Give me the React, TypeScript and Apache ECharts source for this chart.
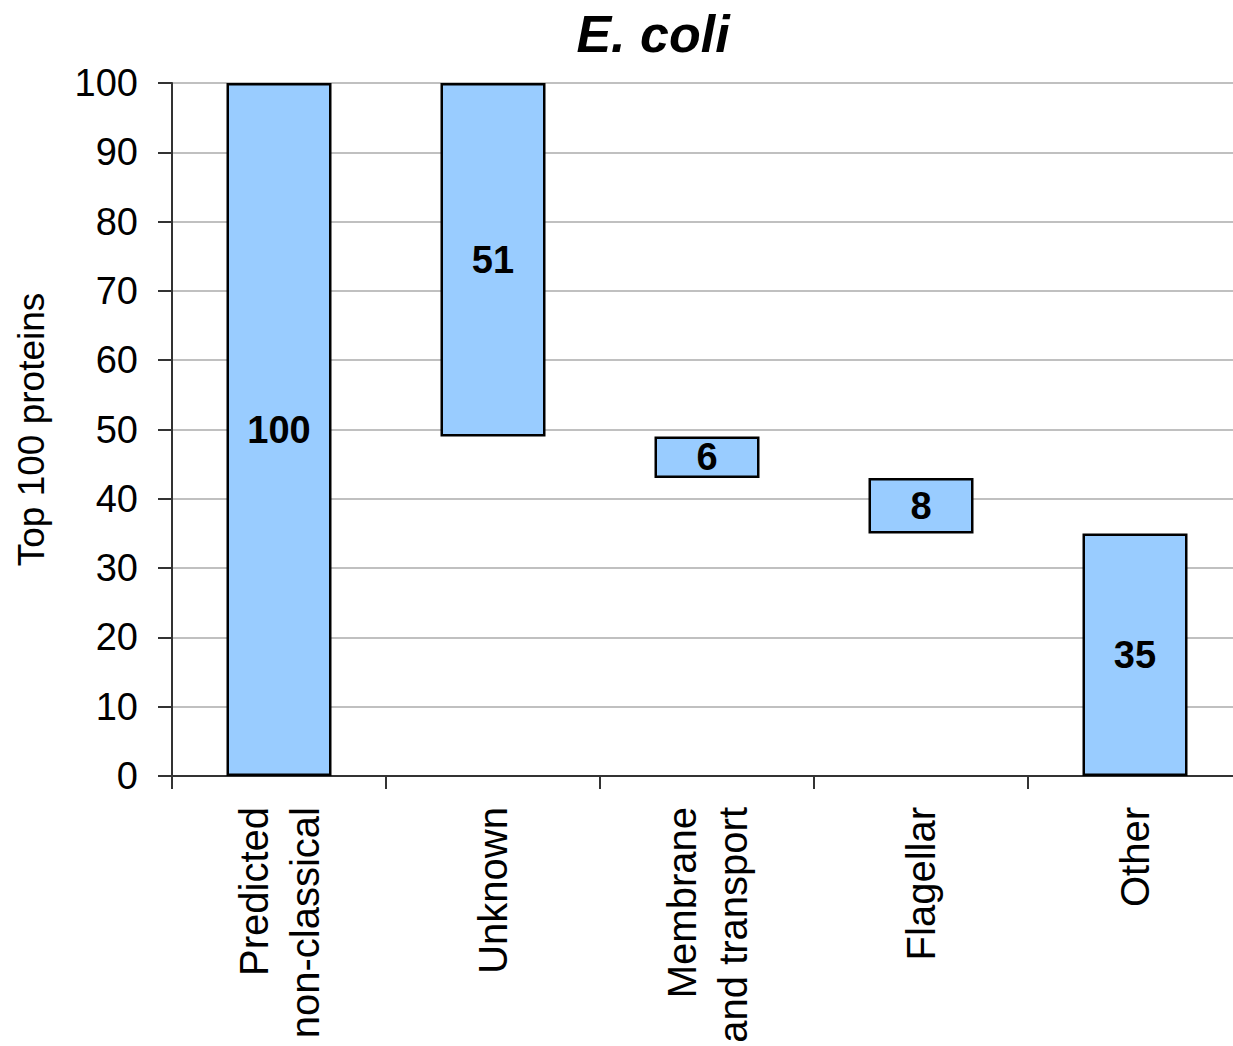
import React, { useEffect, useRef } from "react";
import * as echarts from "echarts";

const categories = ["Predicted\nnon-classical", "Unknown", "Membrane\nand transport", "Flagellar", "Other"];
const values = [100, 51, 6, 8, 35];
const yTicks = { min: 0, max: 100, interval: 10 };
const titleText = "E. coli";
const yName = "Top 100 proteins";

// waterfall bases: first bar from 0, each next bar hangs below the previous running total
const bases: number[] = [];
{
  let running = 0;
  values.forEach((v, i) => {
    if (i === 0) {
      bases.push(0);
      running = v;
    } else {
      running = running - v;
      bases.push(Math.max(running, 0));
    }
  });
}

const FONT = "'Liberation Sans', Arial, sans-serif";

export default function App() {
  const ref = useRef<HTMLDivElement>(null);
  useEffect(() => {
    if (!ref.current) return;
    const chart = echarts.init(ref.current, undefined, { renderer: "svg" });
    chart.setOption({
      animation: false,
      backgroundColor: "#ffffff",
      textStyle: { fontFamily: FONT },
      graphic: [
        {
          type: "text",
          x: 653,
          y: 34,
          style: {
            text: titleText,
            fontFamily: FONT,
            fontSize: 52,
            fontWeight: "bold",
            fontStyle: "italic",
            fill: "#000",
            textAlign: "center",
            textVerticalAlign: "middle",
          },
        },
      ],
      grid: {
        left: 172,
        top: 83,
        width: 1070,
        bottom: 270,
        outerBoundsMode: "none",
        containLabel: false,
        show: true,
        borderColor: "#808080",
        borderWidth: 2,
        backgroundColor: "transparent",
      },
      xAxis: {
        type: "category",
        data: categories,
        axisLine: { show: true, lineStyle: { color: "#333", width: 2 } },
        axisTick: { show: true, length: 13, lineStyle: { color: "#333", width: 2 } },
        axisLabel: {
          rotate: 90,
          interval: 0,
          fontSize: 40,
          lineHeight: 51,
          color: "#000",
          fontFamily: FONT,
          margin: 31,
        },
        splitLine: { show: false },
      },
      yAxis: {
        type: "value",
        min: yTicks.min,
        max: yTicks.max,
        interval: yTicks.interval,
        name: yName,
        nameLocation: "middle",
        nameRotate: 90,
        nameGap: 122,
        nameTextStyle: { fontSize: 37, color: "#000", fontFamily: FONT },
        axisLine: { show: true, lineStyle: { color: "#333", width: 2 } },
        axisTick: { show: true, length: 14, lineStyle: { color: "#333", width: 2 } },
        axisLabel: { fontSize: 38, color: "#000", fontFamily: FONT, margin: 34 },
        splitLine: { show: true, lineStyle: { color: "#c0c0c0", width: 2 } },
      },
      series: [
        {
          type: "bar",
          stack: "w",
          data: bases,
          itemStyle: { color: "transparent", borderColor: "transparent" },
          emphasis: { disabled: true },
          silent: true,
          barWidth: 105,
        },
        {
          type: "bar",
          stack: "w",
          data: values,
          barWidth: 105,
          itemStyle: { color: "#99ccff", borderColor: "#000", borderWidth: 2.5 },
          label: {
            show: true,
            position: "inside",
            fontSize: 38,
            fontWeight: "bold",
            color: "#000",
            fontFamily: FONT,
          },
        },
      ],
    });
    return () => chart.dispose();
  }, []);
  return (
    <div
      ref={ref}
      style={{ position: "absolute", left: 0, top: 0, width: 1233, height: 1046, overflow: "hidden" }}
    />
  );
}
